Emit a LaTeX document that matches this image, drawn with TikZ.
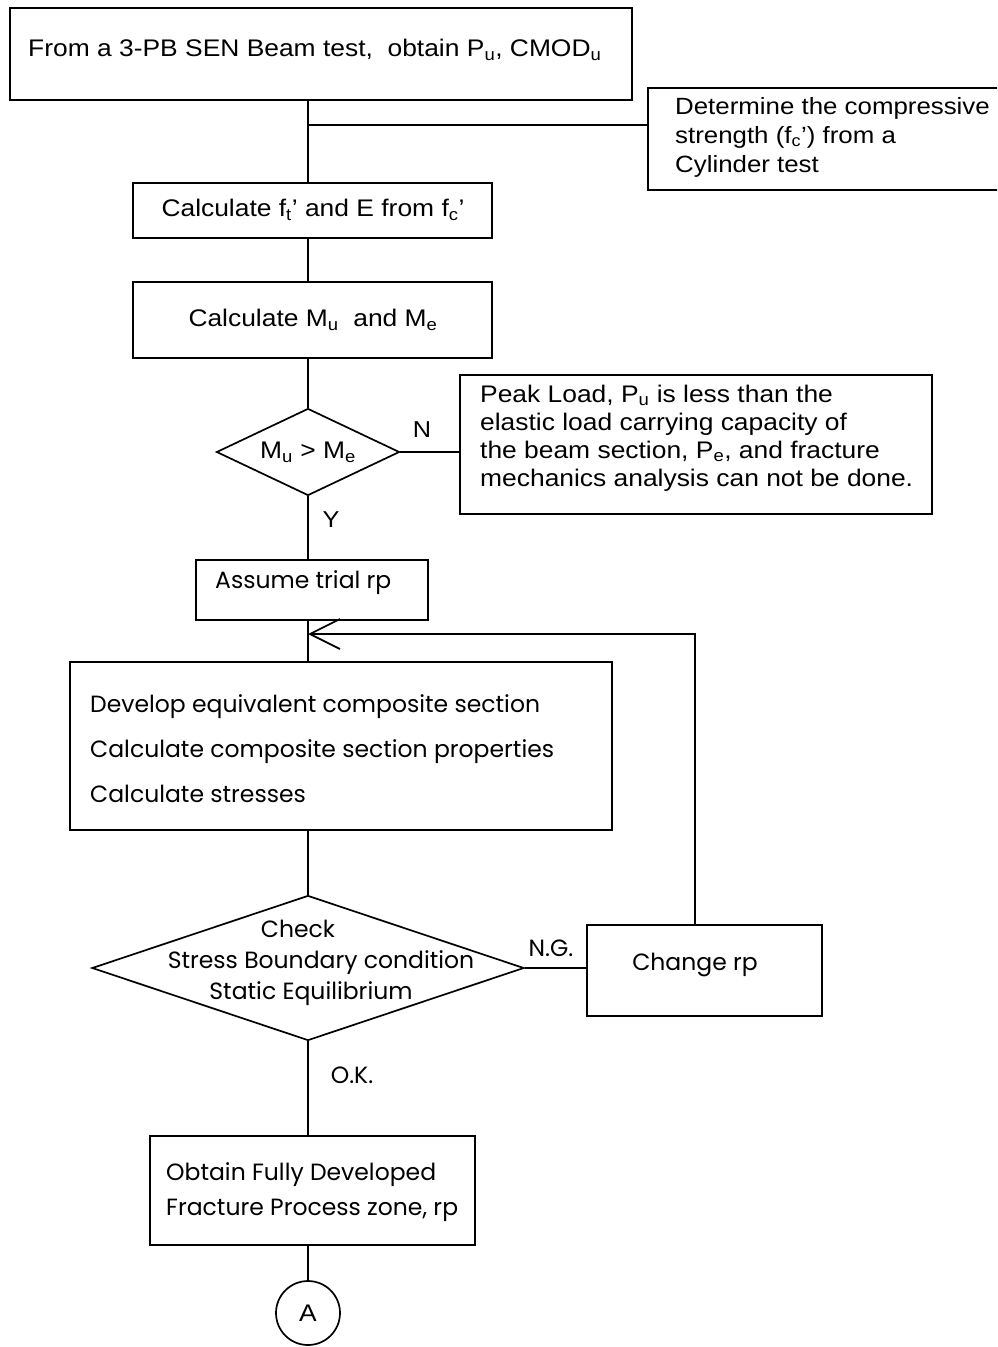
\documentclass[tikz,border=0pt]{standalone}
\usepackage{fontspec}
\setmainfont{Liberation Sans}[FakeStretch=1.1]
\newfontfamily\roundfont{Poppins}
\usetikzlibrary{shapes.geometric,arrows.meta}
\newcommand{\sbs}[1]{\textsubscript{#1}}
\begin{document}
\begin{tikzpicture}[x=1pt,y=-1pt,
  box/.style={draw, line width=1.7pt, rectangle, inner sep=0pt},
  dec/.style={draw, line width=1.7pt, diamond, inner sep=0pt},
  wire/.style={line width=1.7pt},
  txtA/.style={font=\fontsize{24}{28}\selectfont, inner sep=0pt, align=left},
  txtB/.style={font=\roundfont\fontsize{23.5}{45}\selectfont, inner sep=0pt, align=left},
  lbl/.style={inner sep=0pt},
]
\useasboundingbox (0,0) rectangle (997,1347);
\clip (0,0) rectangle (997,1347);

% boxes of the flow
\node[box, minimum width=622, minimum height=92] (top) at (321,54) {};
\node[box, minimum width=362, minimum height=102] (cyl) at (829,139) {};
\node[box, minimum width=359, minimum height=55] (b2) at (312.5,210.5) {};
\node[box, minimum width=359, minimum height=76] (b3) at (312.5,320) {};
\node[dec, minimum width=183, minimum height=87] (d1) at (308,452) {};
\node[box, minimum width=472, minimum height=139] (peak) at (696,444.5) {};
\node[box, minimum width=232, minimum height=60] (asm) at (312,590) {};
\node[box, minimum width=542, minimum height=168] (big) at (341,746) {};
\node[dec, minimum width=432, minimum height=145] (d2) at (308,968) {};
\node[box, minimum width=235, minimum height=91] (chg) at (704.5,970.5) {};
\node[box, minimum width=325, minimum height=109] (obt) at (312.5,1190.5) {};
\node[draw, line width=1.7pt, circle, minimum size=64, inner sep=0pt,
      font=\fontsize{24}{26}\selectfont] (cA) at (308,1313) {A};

% texts
\node[txtA, anchor=west] (ttop) at (28,50) {From a 3-PB SEN Beam test,\ \ obtain P\sbs{u}, CMOD\sbs{u}};
\node[txtA, anchor=west, font=\fontsize{23.5}{29}\selectfont] (tcyl) at (675,137) {Determine the compressive\\strength (f\sbs{c}') from a\\Cylinder test};
\node[txtA] (tb2) at (313,210) {Calculate f\sbs{t}' and E from f\sbs{c}'};
\node[txtA] (tb3) at (313,320) {Calculate M\sbs{u}\ \ and M\sbs{e}};
\node[txtA] (td1) at (308,452) {M\sbs{u} > M\sbs{e}};
\node[txtA, anchor=west, font=\fontsize{24}{28}\selectfont] (tpeak) at (480,438) {Peak Load, P\sbs{u} is less than the\\elastic load carrying capacity of\\the beam section, P\sbs{e}, and fracture\\mechanics analysis can not be done.};
\node[txtB, anchor=west] (tasm) at (215,583) {Assume trial rp};
\node[txtB, anchor=west] (tbig) at (90,749) {Develop equivalent composite section\\Calculate composite section properties\\Calculate stresses};
\node[txtB, align=center, font=\roundfont\fontsize{23.5}{31}\selectfont] (td2) at (321,963)
  {\hspace*{-46pt}Check\\Stress Boundary condition\\\hspace*{-20pt}Static Equilibrium};
\node[txtB] (tchg) at (695,965) {Change rp};
\node[txtB, anchor=west, font=\roundfont\fontsize{23.5}{35}\selectfont] (tobt) at (166,1192)
  {Obtain Fully Developed\\Fracture Process zone, rp};

% branch labels
\node[lbl, font=\fontsize{23}{26}\selectfont] (lN) at (422,430) {N};
\node[lbl, font=\fontsize{23}{26}\selectfont] (lY) at (331,520) {Y};
\node[lbl, font=\roundfont\fontsize{23.5}{26}\selectfont] (lNG) at (551,948) {N.G.};
\node[lbl, font=\roundfont\fontsize{23.5}{26}\selectfont] (lOK) at (352,1075) {O.K.};

% connectors
\coordinate (m) at (308,0);
\coordinate (j) at (308,125);
\coordinate (lp) at (695,634);
\draw[wire] (top.south -| m) -- (b2.north -| m);
\draw[wire] (j) -- (cyl.west |- j);
\draw[wire] (b2.south -| m) -- (b3.north -| m);
\draw[wire] (b3.south -| m) -- (d1.north);
\draw[wire] (d1.east) -- (peak.west |- d1.east);
\draw[wire] (d1.south) -- (asm.north -| m);
\draw[wire] (asm.south -| m) -- (big.north -| m);
\draw[wire] (big.south -| m) -- (d2.north);
\draw[wire] (d2.east) -- (chg.west |- d2.east);
\draw[wire] (d2.south) -- (obt.north -| m);
\draw[wire] (obt.south -| m) -- (cA.north);
\draw[wire, -{Straight Barb[length=30pt,width=30pt]}] (chg.north -| lp) -- (lp) -- (lp -| m);
\end{tikzpicture}
\end{document}
